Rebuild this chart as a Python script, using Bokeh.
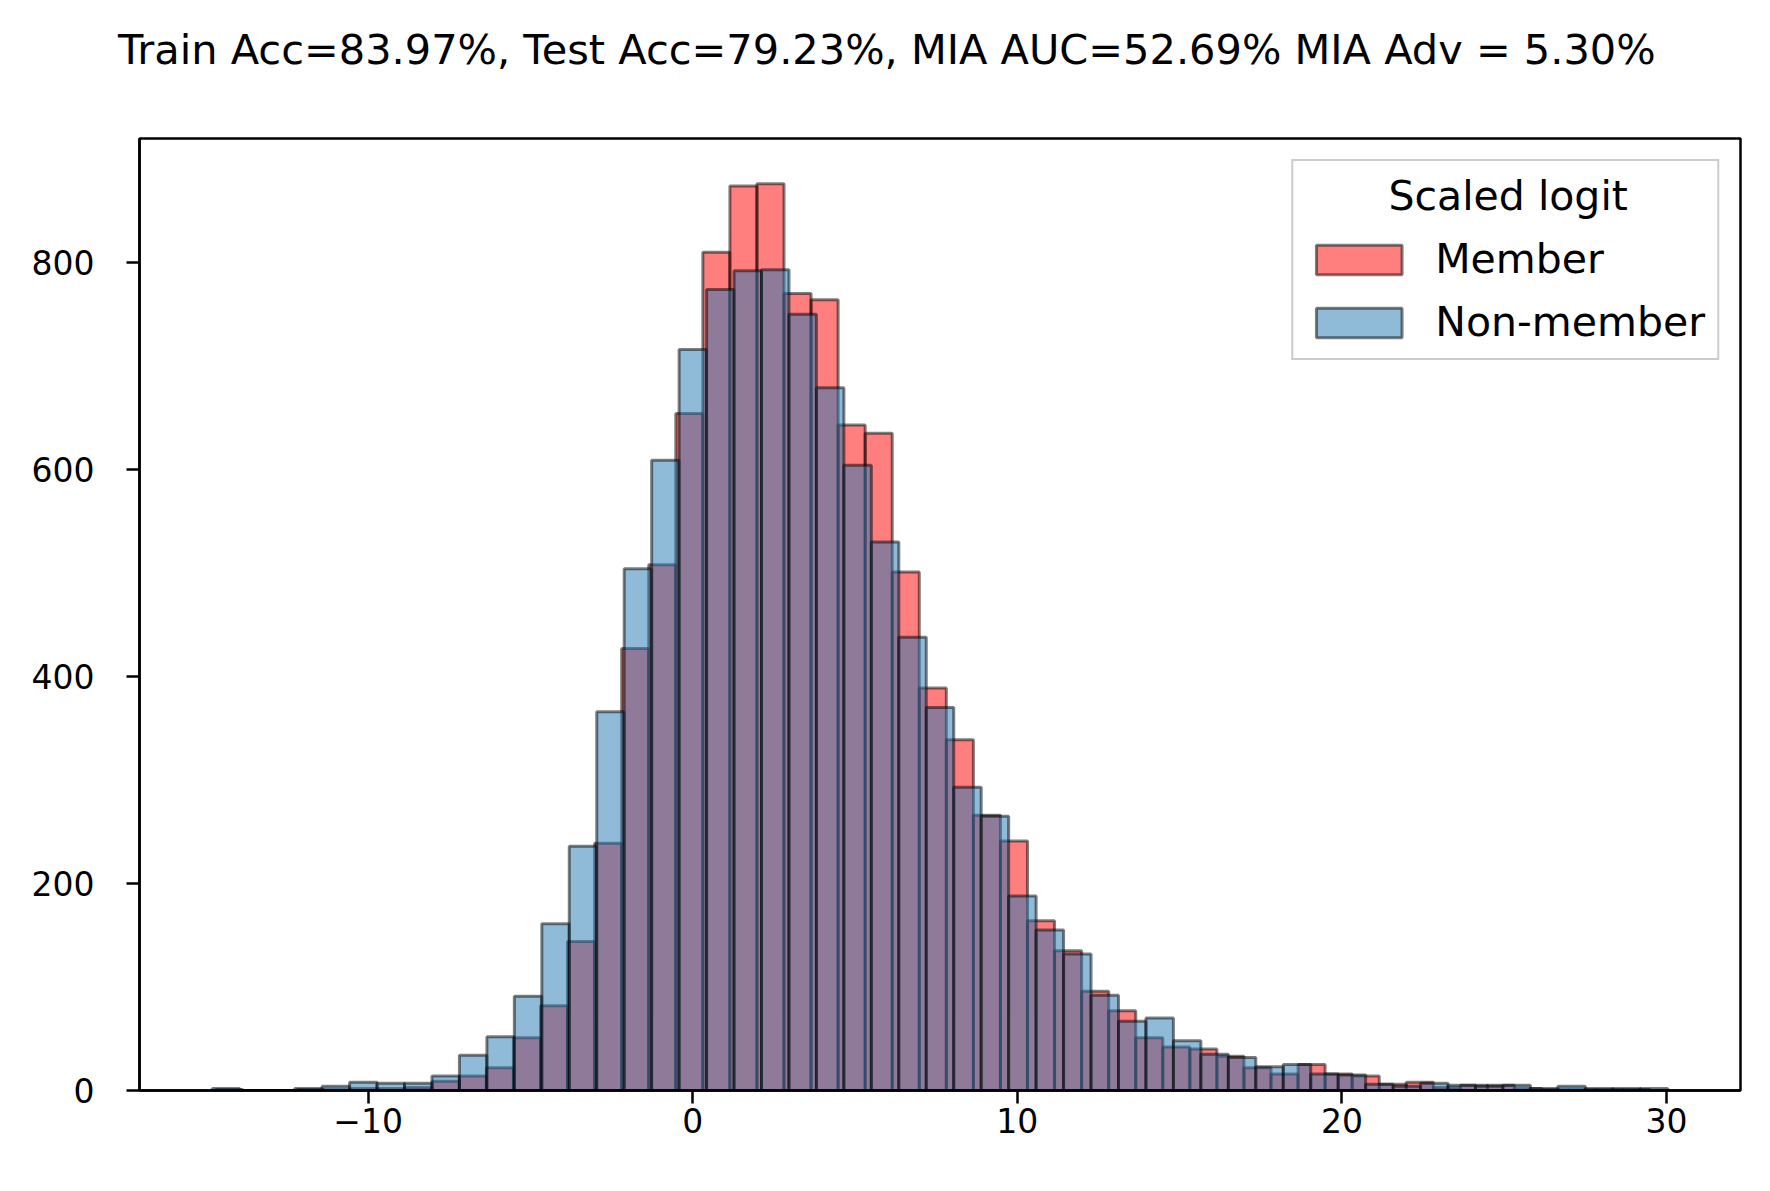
import numpy as np
from bokeh.plotting import figure
from bokeh.models import (Range1d, FixedTicker, CustomJSTickFormatter, Legend,
                          LegendItem, ColumnDataSource, Label, LinearAxis)
from bokeh.embed import file_html
from bokeh.resources import INLINE

# ---------------- data ----------------
title_text = "Train Acc=83.97%, Test Acc=79.23%, MIA AUC=52.69% MIA Adv = 5.30%"
legend_title = "Scaled logit"
series_names = ["Member", "Non-member"]

member_bin_start = -14.69
member_bin_width = 0.8335
member_counts = [1, 0, 0, 1, 1, 2, 2, 3, 9, 14,
                 22, 51, 82, 144, 239, 427, 508, 654, 810, 874,
                 876, 770, 764, 643, 635, 501, 389, 339, 266, 241,
                 164, 135, 96, 77, 51, 42, 40, 33, 22, 16,
                 25, 16, 14, 6, 8, 3, 5, 5, 2, 1,
                 1, 1, 1]

nonmember_bin_start = -14.80
nonmember_bin_width = 0.846
nonmember_counts = [2, 0, 0, 2, 4, 8, 7, 7, 14, 34,
                    52, 91, 161, 236, 366, 504, 609, 716, 774, 792,
                    793, 750, 679, 604, 530, 438, 370, 293, 265, 188,
                    155, 132, 92, 67, 70, 48, 35, 32, 23, 25,
                    16, 15, 6, 4, 7, 5, 4, 5, 2, 4,
                    2, 2, 2]

x_ticks = [-10, 0, 10, 20, 30]
y_ticks = [0, 200, 400, 600, 800]


def hist_source(start, width, counts):
    counts = np.asarray(counts, dtype=float)
    left = start + width * np.arange(len(counts))
    return ColumnDataSource(dict(left=left, right=left + width,
                                 top=counts, bottom=np.zeros_like(counts)))


src_m = hist_source(member_bin_start, member_bin_width, member_counts)
src_n = hist_source(nonmember_bin_start, nonmember_bin_width, nonmember_counts)

all_lo = min(member_bin_start, nonmember_bin_start)
all_hi = max(member_bin_start + member_bin_width * len(member_counts),
             nonmember_bin_start + nonmember_bin_width * len(nonmember_counts))
pad = 0.05 * (all_hi - all_lo)
ymax = 1.05 * max(max(member_counts), max(nonmember_counts))

FONT = "DejaVu Sans"
W, H = 1762, 1183
BL, BR, BT, BB = 139, 22, 138, 93

p = figure(width=W, height=H, output_backend="svg", toolbar_location=None,
           x_range=Range1d(all_lo - pad, all_hi + pad), y_range=Range1d(0, ymax),
           min_border_left=BL, min_border_right=BR, min_border_top=BT,
           min_border_bottom=BB, title=title_text)
p.background_fill_color = "white"
p.border_fill_color = "white"
p.grid.visible = False
p.outline_line_color = "black"
p.outline_line_width = 2.5
p.outline_line_alpha = 1.0

xax = p.below[0]
yax = p.left[0]

# spacer between the title and the frame: an invisible top axis with one
# undrawn tick and an empty label, whose tick length reserves the space
spacer = LinearAxis(ticker=FixedTicker(ticks=[0]), axis_line_color=None,
                    major_tick_line_color=None, minor_tick_line_color=None,
                    major_tick_out=60, major_tick_in=0, minor_tick_out=0,
                    major_label_standoff=0, major_label_text_font_size="1px",
                    formatter=CustomJSTickFormatter(code="return '';"),
                    axis_label=None)
p.add_layout(spacer, "above")

p.title.align = "left"
p.title.offset = -21.6
p.title.standoff = 10
p.title.text_font = FONT
p.title.text_font_size = "41.5px"
p.title.text_font_style = "normal"
p.title.text_color = "black"

r_m = p.quad(left="left", right="right", top="top", bottom="bottom", source=src_m,
             fill_color="red", fill_alpha=0.5, line_color="black", line_alpha=0.5,
             line_width=3)
r_n = p.quad(left="left", right="right", top="top", bottom="bottom", source=src_n,
             fill_color="#1f77b4", fill_alpha=0.5, line_color="black", line_alpha=0.5,
             line_width=3)

for ax in (xax, yax):
    ax.axis_line_color = "black"
    ax.axis_line_width = 2.5
    ax.major_tick_line_color = "black"
    ax.major_tick_line_width = 2.5
    ax.major_tick_out = 13
    ax.major_tick_in = 0
    ax.minor_tick_line_color = None
    ax.major_label_text_font = FONT
    ax.major_label_text_font_size = "33px"
    ax.major_label_text_color = "black"

xax.major_label_standoff = 4
yax.major_label_standoff = 32
xax.ticker = FixedTicker(ticks=x_ticks)
yax.ticker = FixedTicker(ticks=y_ticks)
xax.formatter = CustomJSTickFormatter(
    code="return tick < 0 ? '\u2212' + Math.abs(tick) : String(tick);")

legend = Legend(items=[LegendItem(label=series_names[0], renderers=[r_m]),
                       LegendItem(label=series_names[1], renderers=[r_n])],
                title="\u00a0", location="top_right")
legend.margin = 21
legend.padding = 12
legend.spacing = 15
legend.title_standoff = 14
legend.glyph_width = 107
legend.glyph_height = 37
legend.label_standoff = 23
legend.label_text_font = FONT
legend.label_text_font_size = "41px"
legend.label_text_color = "black"
legend.title_text_font = FONT
legend.title_text_font_size = "41px"
legend.title_text_font_style = "normal"
legend.border_line_color = "#cccccc"
legend.border_line_width = 2.5
legend.border_line_alpha = 1.0
legend.background_fill_alpha = 0.0
p.add_layout(legend)

# centred legend title (screen units are measured from the frame's bottom-left)
p.add_layout(Label(x=1368.7, y=895, x_units="screen", y_units="screen",
                   text=legend_title, text_align="center", text_baseline="middle",
                   text_font=FONT, text_font_size="41px", text_color="black",
                   level="overlay"))

open("out.html", "w").write(file_html(p, INLINE))
